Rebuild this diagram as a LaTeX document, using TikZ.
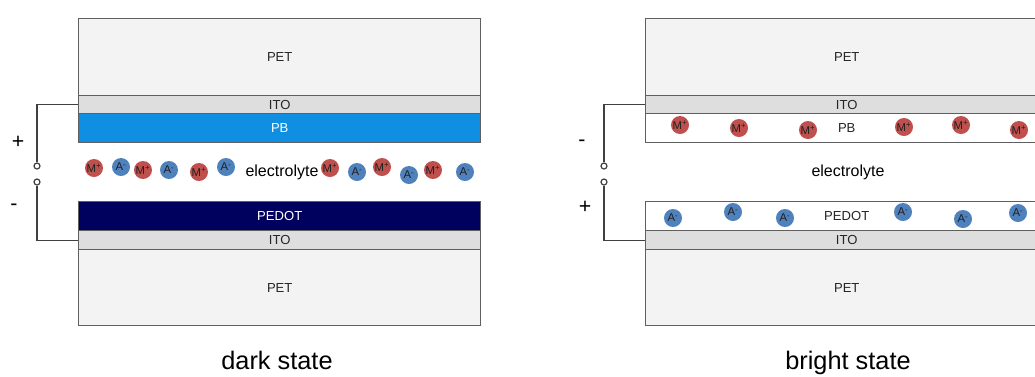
\documentclass[tikz,border=0pt]{standalone}
\usepackage{fontspec}
\setmainfont{Liberation Sans}
\definecolor{petc}{HTML}{F3F3F3}
\definecolor{itoc}{HTML}{DEDEDE}
\definecolor{pbc}{HTML}{108FE2}
\definecolor{pedotc}{HTML}{00005F}
\definecolor{edge}{HTML}{5F5F5F}
\definecolor{wirec}{HTML}{404040}
\definecolor{ionred}{HTML}{C0504D}
\definecolor{ionblue}{HTML}{4F81BD}
\definecolor{iontext}{HTML}{202020}
\tikzset{
  layer/.style={draw=edge, line width=1.1pt, anchor=north west, inner sep=0pt,
    minimum width=402*0.75pt, font=\fontsize{9.8}{11}\selectfont, text=black!85},
  ion/.style={circle, inner sep=0pt, minimum size=13.5pt,
    font=\fontsize{8.5}{9}\selectfont, text=iontext},
  mion/.style={ion, fill=ionred},
  aion/.style={ion, fill=ionblue},
  wire/.style={draw=wirec, line width=1.1pt},
  term/.style={circle, draw=wirec, line width=0.9pt, fill=white, inner sep=0pt, minimum size=4.5pt},
  lbl/.style={font=\fontsize{12}{14}\selectfont},
  sign/.style={font=\fontsize{16}{18}\selectfont},
  caption/.style={font=\fontsize{19}{22}\selectfont, anchor=base}
}
\newcommand{\Mp}{M\textsuperscript{+}}
\newcommand{\Am}{A\textsuperscript{-}}
\begin{document}
\begin{tikzpicture}[x=0.75pt, y=-0.75pt]
\useasboundingbox (0,0) rectangle (1035,376);
\clip (0,0) rectangle (1035,376);
% ---------- dark state ----------
\node[layer, fill=petc, minimum height=77*0.75pt] (lpetT) at (78,18) {PET};
\node[layer, fill=itoc, minimum height=18*0.75pt] (litoT) at (78,95) {ITO};
\node[layer, fill=pbc, minimum height=29*0.75pt, text=white] (lpb) at (78,113) {PB};
\node[layer, fill=pedotc, minimum height=29*0.75pt, text=white] (lpedot) at (78,201) {PEDOT};
\node[layer, fill=itoc, minimum height=19*0.75pt] (litoB) at (78,230) {ITO};
\node[layer, fill=petc, minimum height=76*0.75pt] (lpetB) at (78,249) {PET};
\node[lbl] (lel) at (282,172) {electrolyte};
\node[mion] (lm1) at (94,168) {\Mp};
\node[aion] (la1) at (121,167) {\Am};
\node[mion] (lm2) at (143,170) {\Mp};
\node[aion] (la2) at (169,170) {\Am};
\node[mion] (lm3) at (199,172) {\Mp};
\node[aion] (la3) at (226,167) {\Am};
\node[mion] (lm4) at (330,168) {\Mp};
\node[aion] (la4) at (357,172) {\Am};
\node[mion] (lm5) at (382,167) {\Mp};
\node[aion] (la5) at (409,175) {\Am};
\node[mion] (lm6) at (433,170) {\Mp};
\node[aion] (la6) at (465,172) {\Am};
\node[term] (lt1) at (37,166) {};
\node[term] (lt2) at (37,182) {};
\draw[wire] (litoT.west) -| (lt1.north);
\draw[wire] (litoB.west) -| (lt2.south);
\node[sign] (lplus) at (18,142) {+};
\node[sign] (lminus) at (14,207) {-};
\node[caption] (dark) at (277,369) {dark state};
% ---------- bright state ----------
\node[layer, fill=petc, minimum height=77*0.75pt] (rpetT) at (645,18) {PET};
\node[layer, fill=itoc, minimum height=18*0.75pt] (ritoT) at (645,95) {ITO};
\node[layer, fill=white, minimum height=29*0.75pt] (rpb) at (645,113) {PB};
\node[layer, fill=white, minimum height=29*0.75pt] (rpedot) at (645,201) {PEDOT};
\node[layer, fill=itoc, minimum height=19*0.75pt] (ritoB) at (645,230) {ITO};
\node[layer, fill=petc, minimum height=76*0.75pt] (rpetB) at (645,249) {PET};
\node[lbl] (rel) at (848,172) {electrolyte};
\node[mion] (rm1) at (680,125) {\Mp};
\node[mion] (rm2) at (739,128) {\Mp};
\node[mion] (rm3) at (808,130) {\Mp};
\node[mion] (rm4) at (904,127) {\Mp};
\node[mion] (rm5) at (961,125) {\Mp};
\node[mion] (rm6) at (1019,130) {\Mp};
\node[aion] (ra1) at (673,218) {\Am};
\node[aion] (ra2) at (733,212) {\Am};
\node[aion] (ra3) at (785,218) {\Am};
\node[aion] (ra4) at (903,212) {\Am};
\node[aion] (ra5) at (963,219) {\Am};
\node[aion] (ra6) at (1018,213) {\Am};
\node[term] (rt1) at (604,166) {};
\node[term] (rt2) at (604,182) {};
\draw[wire] (ritoT.west) -| (rt1.north);
\draw[wire] (ritoB.west) -| (rt2.south);
\node[sign] (rminus) at (582,143) {-};
\node[sign] (rplus) at (585,207) {+};
\node[caption] (bright) at (848,369) {bright state};
\end{tikzpicture}
\end{document}
